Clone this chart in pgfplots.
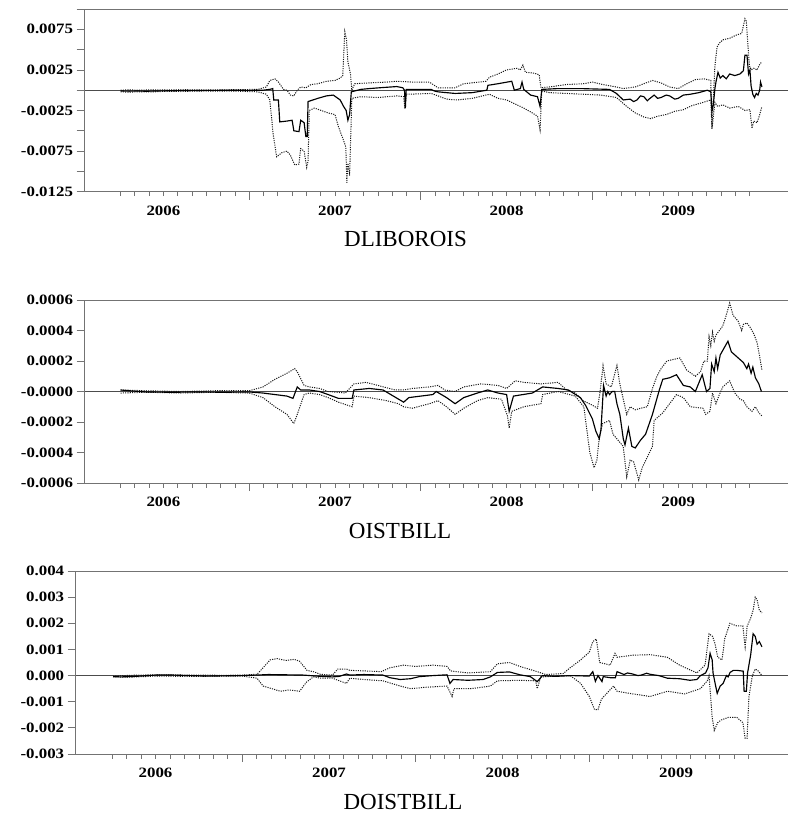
\documentclass[border=0pt]{standalone}
\usepackage{pgfplots}
\pgfplotsset{compat=1.18}
\usepackage{fontspec}
\setmainfont{Liberation Serif}
\newfontfamily\tickfamily[FakeStretch=1.18]{Liberation Serif}
\newcommand\tickfont{\tickfamily\bfseries\fontsize{14.3pt}{16pt}\selectfont}
\newcommand\titlefont{\fontsize{23pt}{26pt}\selectfont}
\definecolor{axisgray}{gray}{0.45}

\tikzset{
  midline/.style={black, line width=1.15pt},
  bandline/.style={black!90, line width=1pt, dash pattern=on 1.1pt off 1.2pt},
  zeroline/.style={black!70, line width=0.7pt},
  topline/.style={axisgray, line width=0.8pt},
  yearname/.style={font=\tickfont, yshift=-19pt},
}
\pgfplotsset{
  panel/.style={
    scale only axis, clip=false,
    xmin=2006.04,
    axis x line*=bottom, axis y line*=left,
    axis line style={axisgray, line width=0.8pt},
    tick style={axisgray, line width=0.8pt},
    tick align=outside,
    major tick length=8pt, minor tick length=4.5pt,
    xtick={2007,2008,2009}, xticklabels={},
    minor xtick={2006.25,2006.3333,2006.4167,2006.5,2006.5833,2006.6667,2006.75,2006.8333,2006.9167,
      2007.0833,2007.1667,2007.25,2007.3333,2007.4167,2007.5,2007.5833,2007.6667,2007.75,2007.8333,2007.9167,
      2008.0833,2008.1667,2008.25,2008.3333,2008.4167,2008.5,2008.5833,2008.6667,2008.75,2008.8333,2008.9167,
      2009.0833,2009.1667,2009.25,2009.3333,2009.4167,2009.5,2009.5833,2009.6667,2009.75,2009.8333,2009.9167},
    scaled y ticks=false,
    yticklabel style={font=\tickfont},
  },
}
% year names sit under the middle of each year
\newcommand\yearlabels{%
  \node[yearname] at ({axis cs:2006.5,0} |- {rel axis cs:0,0}) {2006};
  \node[yearname] at ({axis cs:2007.5,0} |- {rel axis cs:0,0}) {2007};
  \node[yearname] at ({axis cs:2008.5,0} |- {rel axis cs:0,0}) {2008};
  \node[yearname] at ({axis cs:2009.5,0} |- {rel axis cs:0,0}) {2009};
}

\begin{document}
\begin{tikzpicture}
\path[use as bounding box] (0,0) rectangle (788pt,-815pt);

% ---------------- DLIBOROIS ----------------
\begin{axis}[panel, at={(84.5pt,-191.7pt)}, anchor=south west,
  width=703.5pt, height=182.7pt, xmax=2010.14,
  ymin=-0.0125, ymax=0.01,
  ytick={-0.0125,-0.01,-0.0075,-0.005,-0.0025,0,0.0025,0.005,0.0075,0.01},
  yticklabels={-0.0125,,-0.0075,,-0.0025,,0.0025,,0.0075,}]
\draw[zeroline] (axis cs:2006.04,0) -- (axis cs:2010.14,0);
\draw[topline] (rel axis cs:0,1) -- (rel axis cs:1,1);
\addplot[bandline] coordinates {
(2006.25,0.0000) (2006.30,0.00005) (2006.35,0.0) (2006.42,0.00004) (2006.5,0.00003) (2006.6,0.00006) (2006.7,0.00005) (2006.8,0.00004) (2006.9,0.00006) (2007.05,0.0001)
(2007.10,0.0004) (2007.12,0.0012) (2007.15,0.0014) (2007.17,0.0010) (2007.20,0.0001) (2007.22,0.0) (2007.24,-0.0006) (2007.26,-0.0007)
(2007.28,0.0) (2007.30,0.0004) (2007.33,0.0003) (2007.36,0.0007) (2007.40,0.0008) (2007.45,0.0011) (2007.50,0.0012) (2007.53,0.0015)
(2007.545,0.0018) (2007.557,0.0072) (2007.567,0.0062) (2007.575,0.0035) (2007.59,0.0020) (2007.598,0.0) (2007.615,0.0008) (2007.70,0.0009)
(2007.80,0.0010) (2007.86,0.0011) (2007.95,0.0010) (2008.05,0.0010) (2008.10,0.0003) (2008.20,0.0003) (2008.25,0.0008) (2008.38,0.0011)
(2008.40,0.0016) (2008.45,0.0020) (2008.50,0.0025) (2008.56,0.0027) (2008.58,0.0025) (2008.595,0.0031) (2008.61,0.0022) (2008.66,0.0021)
(2008.69,0.0019) (2008.70,0.0003) (2008.75,0.0004) (2008.85,0.0007) (2008.95,0.0008) (2009.00,0.0010) (2009.06,0.0007) (2009.14,0.0004)
(2009.18,0.0002) (2009.25,0.0004) (2009.30,0.0008) (2009.35,0.0012) (2009.40,0.0009) (2009.45,0.0004) (2009.50,0.0002) (2009.55,0.0008)
(2009.60,0.0013) (2009.65,0.0014) (2009.69,0.0012) (2009.697,-0.0045) (2009.705,-0.0010) (2009.714,0.0030) (2009.726,0.0053) (2009.74,0.0058)
(2009.76,0.0062) (2009.80,0.0064) (2009.84,0.0068) (2009.87,0.0070) (2009.889,0.0088) (2009.897,0.0085) (2009.905,0.0060) (2009.915,0.0030)
(2009.925,0.0025) (2009.94,0.0027) (2009.96,0.0025) (2009.975,0.0032) (2009.988,0.0035)};
\addplot[bandline] coordinates {
(2006.25,-0.0002) (2006.30,-0.00025) (2006.35,-0.0002) (2006.42,-0.00022) (2006.5,-0.00015) (2006.6,-0.00016) (2006.7,-0.0001) (2006.8,-0.00012) (2006.9,-0.0001) (2007.05,-0.0002)
(2007.10,-0.0005) (2007.12,-0.0012) (2007.14,-0.0055) (2007.16,-0.0082) (2007.19,-0.0077) (2007.22,-0.0075) (2007.24,-0.0080) (2007.265,-0.0092)
(2007.29,-0.0091) (2007.30,-0.0072) (2007.32,-0.0075) (2007.335,-0.0095) (2007.343,-0.0087) (2007.350,-0.0025) (2007.38,-0.0022) (2007.42,-0.0025)
(2007.46,-0.0028) (2007.50,-0.0030) (2007.52,-0.0045) (2007.55,-0.0062) (2007.563,-0.0070) (2007.569,-0.0114) (2007.575,-0.0090) (2007.585,-0.0105)
(2007.598,-0.0010) (2007.65,-0.0008) (2007.75,-0.0009) (2007.86,-0.0007) (2007.90,-0.0008) (2007.907,-0.0023) (2007.915,-0.0005) (2008.06,-0.0004)
(2008.10,-0.0007) (2008.15,-0.0011) (2008.21,-0.0012) (2008.30,-0.0010) (2008.38,-0.0006) (2008.40,-0.0005) (2008.45,-0.0010) (2008.50,-0.0012)
(2008.55,-0.0017) (2008.60,-0.0022) (2008.65,-0.0028) (2008.68,-0.0032) (2008.695,-0.0049) (2008.705,-0.0001) (2008.75,-0.0003) (2008.85,-0.0004)
(2008.95,-0.0005) (2009.05,-0.0006) (2009.14,-0.0009) (2009.20,-0.0020) (2009.25,-0.0028) (2009.30,-0.0033) (2009.34,-0.0035) (2009.38,-0.0032)
(2009.43,-0.0030) (2009.48,-0.0026) (2009.53,-0.0024) (2009.58,-0.0019) (2009.63,-0.0016) (2009.69,-0.0012) (2009.697,-0.0048) (2009.714,-0.0015)
(2009.73,-0.0020) (2009.76,-0.0018) (2009.80,-0.0022) (2009.85,-0.0020) (2009.89,-0.0025) (2009.918,-0.0024) (2009.93,-0.0047) (2009.94,-0.0038)
(2009.96,-0.0040) (2009.975,-0.0030) (2009.988,-0.0020)};
\addplot[midline] coordinates {
(2006.25,-0.0001) (2006.30,-0.00012) (2006.35,-0.0001) (2006.40,-0.00013) (2006.45,-0.0001) (2006.50,-0.00008) (2006.60,-0.00005) (2006.70,-0.00003)
(2006.80,-0.00002) (2006.90,0.0) (2007.00,-0.00002) (2007.08,0.0) (2007.12,0.0001) (2007.137,0.0002) (2007.143,-0.0012) (2007.17,-0.0012)
(2007.178,-0.0039) (2007.22,-0.0038) (2007.25,-0.0037) (2007.26,-0.0050) (2007.29,-0.0051) (2007.30,-0.0037) (2007.32,-0.0040) (2007.33,-0.0057)
(2007.338,-0.0057) (2007.343,-0.0014) (2007.40,-0.0010) (2007.45,-0.0007) (2007.49,-0.0006) (2007.51,-0.0009) (2007.53,-0.0012) (2007.55,-0.0020)
(2007.565,-0.0025) (2007.575,-0.0037) (2007.585,-0.0030) (2007.595,-0.0002) (2007.65,0.0001) (2007.70,0.0002) (2007.76,0.0003) (2007.86,0.00045)
(2007.895,0.0003) (2007.905,0.0) (2007.910,-0.0022) (2007.915,0.0001) (2008.06,0.0001) (2008.08,-0.0001) (2008.10,-0.0002) (2008.20,-0.0004)
(2008.30,-0.0003) (2008.385,0.0) (2008.391,0.0006) (2008.45,0.0008) (2008.53,0.0011) (2008.545,0.0) (2008.58,0.0002) (2008.59,0.0010)
(2008.60,0.0001) (2008.64,-0.0006) (2008.68,-0.0008) (2008.695,-0.0020) (2008.705,0.0001) (2008.80,0.0002) (2008.93,0.0002) (2009.10,0.0001)
(2009.14,-0.0004) (2009.18,-0.0012) (2009.22,-0.0011) (2009.24,-0.0014) (2009.26,-0.0012) (2009.28,-0.0007) (2009.30,-0.0008) (2009.32,-0.0013) (2009.33,-0.0011) (2009.36,-0.0006) (2009.38,-0.0010) (2009.40,-0.0009)
(2009.43,-0.0006) (2009.45,-0.0007) (2009.48,-0.0011) (2009.50,-0.0010) (2009.53,-0.0006) (2009.57,-0.0005) (2009.62,-0.0003) (2009.67,0.0) (2009.69,-0.0002) (2009.697,-0.0025)
(2009.705,-0.0018) (2009.714,0.0002) (2009.72,0.0010) (2009.732,0.0022) (2009.745,0.0015) (2009.76,0.0018) (2009.78,0.0014) (2009.80,0.0020)
(2009.83,0.0018) (2009.86,0.0020) (2009.88,0.0024) (2009.889,0.0043) (2009.901,0.0043) (2009.91,0.0020) (2009.918,0.0025) (2009.925,0.0005)
(2009.935,-0.0005) (2009.945,-0.0009) (2009.955,-0.0004) (2009.965,-0.0006) (2009.975,0.0) (2009.98,0.0010) (2009.988,0.0004)};
\yearlabels
\end{axis}
\node[font=\titlefont, anchor=base] at (405.5pt,-246.7pt) {DLIBOROIS};

% ---------------- OISTBILL ----------------
\begin{axis}[panel, at={(84.5pt,-483pt)}, anchor=south west,
  width=703.5pt, height=183pt, xmax=2010.14,
  ymin=-0.0006, ymax=0.0006,
  ytick={-0.0006,-0.0004,-0.0002,0,0.0002,0.0004,0.0006},
  yticklabels={-0.0006,-0.0004,-0.0002,-0.0000,0.0002,0.0004,0.0006}]
\draw[zeroline] (axis cs:2006.04,0) -- (axis cs:2010.14,0);
\draw[topline] (rel axis cs:0,1) -- (rel axis cs:1,1);
\addplot[bandline] coordinates {
(2006.25,0.00001) (2006.4,0.000005) (2006.6,0.0) (2006.8,0.000005) (2007.00,0.000005) (2007.08,0.00003) (2007.15,0.00008) (2007.22,0.00012)
(2007.265,0.00015) (2007.28,0.00013) (2007.32,0.00004) (2007.35,0.00003) (2007.41,0.00002) (2007.46,0.0) (2007.56,-0.00001) (2007.61,0.00005)
(2007.68,0.00006) (2007.75,0.00004) (2007.85,0.00001) (2007.90,0.00001) (2007.95,0.00002) (2008.05,0.00003) (2008.10,0.00004) (2008.14,0.00001)
(2008.20,0.0) (2008.25,0.00003) (2008.35,0.00005) (2008.45,0.00004) (2008.50,0.00002) (2008.55,0.00007) (2008.60,0.00006) (2008.70,0.00005)
(2008.80,0.00006) (2008.85,0.00001) (2008.90,-0.00001) (2008.945,-0.00006) (2009.00,-0.00009) (2009.03,-0.00011) (2009.045,0.0) (2009.062,0.00017)
(2009.08,0.00005) (2009.11,0.00003) (2009.143,0.00017) (2009.16,0.00005) (2009.18,-0.00005) (2009.20,-0.00015) (2009.22,-0.0001) (2009.25,-0.00012)
(2009.28,-0.00011) (2009.32,-0.0001) (2009.35,0.00002) (2009.376,0.0001) (2009.40,0.00015) (2009.434,0.0002) (2009.47,0.00021) (2009.51,0.00022)
(2009.55,0.00014) (2009.60,0.0001) (2009.63,0.00013) (2009.65,0.0002) (2009.67,0.0002) (2009.68,0.00036) (2009.69,0.0003) (2009.70,0.00039) (2009.71,0.00033) (2009.72,0.00037)
(2009.74,0.0004) (2009.76,0.00043) (2009.78,0.0005) (2009.80,0.00058) (2009.82,0.0005) (2009.85,0.00046) (2009.87,0.0004) (2009.88,0.00044) (2009.90,0.00045)
(2009.92,0.00042) (2009.94,0.00038) (2009.96,0.00032) (2009.975,0.00023) (2009.988,0.00014)};
\addplot[bandline] coordinates {
(2006.25,-0.00001) (2006.4,-0.000005) (2006.6,-0.00001) (2006.8,-0.000005) (2007.00,-0.00001) (2007.08,-0.00004) (2007.15,-0.0001) (2007.22,-0.00015)
(2007.26,-0.00021) (2007.28,-0.00015) (2007.32,-0.00002) (2007.35,-0.00001) (2007.41,-0.00002) (2007.46,-0.00004) (2007.52,-0.00007) (2007.60,-0.0001)
(2007.61,-0.00003) (2007.70,-0.00004) (2007.80,-0.00006) (2007.87,-0.00008) (2007.90,-0.0001) (2007.95,-0.00011) (2008.05,-0.00008) (2008.10,-0.00006)
(2008.15,-0.0001) (2008.2,-0.00015) (2008.25,-0.00011) (2008.33,-0.00006) (2008.39,-0.00004) (2008.47,-0.00005) (2008.505,-0.00016) (2008.515,-0.00024)
(2008.53,-0.00013) (2008.60,-0.0001) (2008.70,-0.00008) (2008.71,-0.00002) (2008.80,0.0) (2008.90,-0.00003) (2008.95,-0.0001) (2008.985,-0.0004)
(2009.01,-0.0005) (2009.026,-0.00045) (2009.04,-0.0003) (2009.06,-0.00021) (2009.10,-0.00019) (2009.12,-0.00028) (2009.18,-0.00036) (2009.20,-0.00056)
(2009.22,-0.00045) (2009.24,-0.00046) (2009.27,-0.00058) (2009.29,-0.0005) (2009.35,-0.00036) (2009.36,-0.00019) (2009.41,-0.00014) (2009.45,-0.00008)
(2009.49,-0.00002) (2009.53,-0.00004) (2009.57,-0.0001) (2009.645,-0.00011) (2009.66,-0.00015) (2009.685,-0.00013) (2009.70,-0.00001) (2009.72,-0.00008)
(2009.74,-0.00002) (2009.76,0.00003) (2009.80,0.00007) (2009.83,-0.00001) (2009.86,-0.00005) (2009.88,-0.00006) (2009.90,-0.0001) (2009.93,-0.00013)
(2009.95,-0.0001) (2009.97,-0.00014) (2009.988,-0.00016)};
\addplot[midline] coordinates {
(2006.25,0.00001) (2006.30,0.000005) (2006.40,-0.000003) (2006.55,-0.000005) (2006.70,-0.000003) (2006.85,-0.000005) (2007.00,-0.000003)
(2007.08,-0.00001) (2007.15,-0.00002) (2007.22,-0.00003) (2007.255,-0.000045) (2007.28,0.00003) (2007.30,0.00001) (2007.35,0.00001) (2007.41,0.0)
(2007.46,-0.00002) (2007.52,-0.000045) (2007.60,-0.000045) (2007.61,0.00001) (2007.70,0.00002) (2007.78,0.00001) (2007.84,-0.00003) (2007.90,-0.00007)
(2007.93,-0.00004) (2008.00,-0.00003) (2008.07,-0.00002) (2008.09,0.0) (2008.15,-0.00004) (2008.2,-0.00008) (2008.25,-0.00004) (2008.33,-0.00001)
(2008.39,0.00001) (2008.45,-0.00001) (2008.50,-0.00002) (2008.515,-0.00013) (2008.54,-0.00003) (2008.65,-0.00001) (2008.71,0.00003) (2008.80,0.00002)
(2008.86,0.00001) (2008.93,-0.00004) (2008.96,-0.00009) (2009.00,-0.00018) (2009.02,-0.00026) (2009.04,-0.00031) (2009.05,-0.00025) (2009.065,0.00004)
(2009.08,-0.00003) (2009.09,0.0) (2009.10,-0.00002) (2009.115,0.0) (2009.13,0.0) (2009.143,-0.00008) (2009.16,-0.00015) (2009.18,-0.00031)
(2009.19,-0.00035) (2009.21,-0.00024) (2009.23,-0.00036) (2009.25,-0.00037) (2009.28,-0.00032) (2009.31,-0.00028) (2009.35,-0.00015) (2009.37,-0.00007)
(2009.39,0.00001) (2009.41,0.00008) (2009.45,0.00009) (2009.49,0.00011) (2009.53,0.00004) (2009.57,0.00003) (2009.60,0.0) (2009.64,0.00011)
(2009.665,0.0) (2009.685,0.00002) (2009.695,0.00018) (2009.71,0.00013) (2009.72,0.00022) (2009.73,0.00015) (2009.745,0.00024) (2009.76,0.00027)
(2009.79,0.00033) (2009.81,0.00026) (2009.83,0.00024) (2009.86,0.00021) (2009.88,0.00019) (2009.90,0.00015) (2009.91,0.00018) (2009.925,0.00012)
(2009.935,0.00016) (2009.95,0.00009) (2009.97,0.00005) (2009.985,0.0)};
\yearlabels
\end{axis}
\node[font=\titlefont, anchor=base] at (400pt,-538pt) {OISTBILL};

% ---------------- DOISTBILL ----------------
\begin{axis}[panel, at={(75.7pt,-754pt)}, anchor=south west,
  width=712.3pt, height=183pt, xmax=2010.145,
  ymin=-0.003, ymax=0.004,
  ytick={-0.003,-0.002,-0.001,0,0.001,0.002,0.003,0.004},
  yticklabels={-0.003,-0.002,-0.001,0.000,0.001,0.002,0.003,0.004}]
\draw[zeroline] (axis cs:2006.04,0) -- (axis cs:2010.145,0);
\draw[topline] (rel axis cs:0,1) -- (rel axis cs:1,1);
\addplot[bandline] coordinates {
(2006.255,-0.00002) (2006.35,0.00001) (2006.5,0.00003) (2006.7,0.00002) (2006.9,0.00001) (2007.0,0.00002) (2007.085,0.00005) (2007.12,0.0003)
(2007.16,0.0006) (2007.20,0.00065) (2007.25,0.00058) (2007.30,0.00062) (2007.33,0.00055) (2007.373,0.0002) (2007.41,0.00015) (2007.45,0.00005)
(2007.52,0.00002) (2007.55,0.00025) (2007.60,0.00025) (2007.62,0.0002) (2007.70,0.00018) (2007.80,0.00015) (2007.851,0.0003) (2007.93,0.0004)
(2008.0,0.00035) (2008.10,0.0004) (2008.18,0.00035) (2008.20,0.00018) (2008.30,0.0001) (2008.43,0.00015) (2008.47,0.00045) (2008.54,0.0005)
(2008.60,0.00035) (2008.70,0.00015) (2008.75,0.00004) (2008.85,0.00008) (2008.89,0.0003) (2008.95,0.0006) (2009.00,0.0009) (2009.02,0.0013)
(2009.04,0.0014) (2009.06,0.0005) (2009.12,0.0004) (2009.148,0.00085) (2009.16,0.0007) (2009.25,0.00078) (2009.35,0.0008) (2009.45,0.0007)
(2009.52,0.0004) (2009.62,0.0001) (2009.667,0.0004) (2009.69,0.0016) (2009.71,0.0015) (2009.725,0.0012) (2009.74,0.0007) (2009.765,0.0006)
(2009.78,0.0014) (2009.81,0.0020) (2009.85,0.0019) (2009.885,0.0019) (2009.898,0.0011) (2009.91,0.0019) (2009.93,0.0022) (2009.944,0.0025)
(2009.956,0.0030) (2009.967,0.0029) (2009.98,0.0025) (2009.995,0.0024)};
\addplot[bandline] coordinates {
(2006.255,-0.00005) (2006.35,-0.00006) (2006.5,-0.00002) (2006.7,-0.00003) (2006.9,-0.00002) (2007.0,-0.00002) (2007.085,-0.0001) (2007.12,-0.0004)
(2007.16,-0.00048) (2007.22,-0.0006) (2007.27,-0.00055) (2007.33,-0.0006) (2007.37,-0.00025) (2007.41,-0.00005) (2007.45,-0.0001) (2007.52,-0.0001)
(2007.60,-0.0003) (2007.62,-0.0001) (2007.70,-0.00015) (2007.81,-0.0002) (2007.91,-0.0004) (2007.97,-0.0005) (2008.05,-0.00045) (2008.18,-0.0004)
(2008.209,-0.0008) (2008.22,-0.0005) (2008.32,-0.0005) (2008.43,-0.0004) (2008.47,-0.0002) (2008.60,-0.00018) (2008.69,-0.0002) (2008.70,-0.0005)
(2008.72,-0.00005) (2008.89,0.0) (2008.95,-0.0003) (2009.00,-0.0008) (2009.03,-0.0013) (2009.05,-0.0013) (2009.07,-0.0009) (2009.14,-0.0004)
(2009.16,-0.0006) (2009.25,-0.0007) (2009.35,-0.0008) (2009.45,-0.0006) (2009.55,-0.0007) (2009.64,-0.0005) (2009.68,-0.0002) (2009.69,0.0)
(2009.708,-0.0016) (2009.72,-0.0021) (2009.74,-0.0018) (2009.76,-0.0017) (2009.80,-0.0016) (2009.85,-0.0016) (2009.885,-0.0018) (2009.898,-0.0024)
(2009.909,-0.0024) (2009.92,-0.0008) (2009.94,0.0) (2009.956,0.00025) (2009.97,0.0002) (2009.995,0.0)};
\addplot[midline] coordinates {
(2006.255,-0.00004) (2006.30,-0.00005) (2006.35,-0.00004) (2006.41,-0.00002) (2006.50,0.00002) (2006.60,0.00002) (2006.70,0.0) (2006.80,-0.00002)
(2006.90,-0.00001) (2007.00,0.0) (2007.085,0.00002) (2007.15,0.00004) (2007.25,0.00003) (2007.35,0.00002) (2007.45,-0.00003) (2007.52,-0.00005)
(2007.56,-0.00003) (2007.60,0.00006) (2007.62,0.00002) (2007.70,0.00004) (2007.81,0.00002) (2007.85,-0.00008) (2007.91,-0.00015) (2007.97,-0.00012)
(2008.02,-0.00004) (2008.10,0.0) (2008.18,0.00003) (2008.197,-0.0003) (2008.215,-0.00015) (2008.30,-0.00018) (2008.388,-0.00015) (2008.43,-0.00005)
(2008.47,0.00012) (2008.54,0.00014) (2008.60,0.00003) (2008.66,-0.00004) (2008.70,-0.00023) (2008.73,0.0) (2008.80,-0.00003) (2008.90,0.0)
(2009.00,-0.00002) (2009.02,0.00015) (2009.035,-0.00022) (2009.05,0.0) (2009.073,-0.00023) (2009.08,-0.00004) (2009.12,-0.00008) (2009.15,-0.00008)
(2009.16,0.00015) (2009.20,0.00004) (2009.22,0.0001) (2009.25,0.00006) (2009.28,0.0) (2009.30,0.00002) (2009.33,0.00009) (2009.35,0.00005) (2009.40,0.0) (2009.45,-0.0001) (2009.52,-0.00012)
(2009.58,-0.00018) (2009.62,-0.00015) (2009.64,0.0) (2009.67,0.0001) (2009.684,0.0003) (2009.696,0.00085) (2009.708,0.0006) (2009.713,0.0001)
(2009.725,-0.0003) (2009.737,-0.00068) (2009.754,-0.0004) (2009.771,-0.0003) (2009.79,0.0) (2009.80,-0.00005) (2009.811,0.00012) (2009.83,0.0002) (2009.85,0.0002) (2009.887,0.00017)
(2009.892,-0.0006) (2009.905,-0.0006) (2009.912,0.0001) (2009.93,0.0008) (2009.944,0.0016) (2009.956,0.0015) (2009.967,0.0012) (2009.98,0.0013)
(2009.995,0.0011)};
\yearlabels
\end{axis}
\node[font=\titlefont, anchor=base] at (403pt,-809pt) {DOISTBILL};
\end{tikzpicture}
\end{document}
